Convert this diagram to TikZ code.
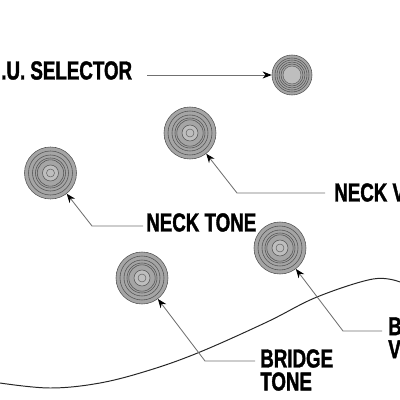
\documentclass[tikz,border=0pt]{standalone}
\usepackage{fontspec}
\newfontfamily\labelfont{Liberation Sans}[FakeStretch=0.72,FakeBold=1.4]
\usetikzlibrary{arrows.meta}

\definecolor{knobgray}{HTML}{A5A5A5}
\definecolor{knobline}{HTML}{555555}
\definecolor{knobcap}{HTML}{BEBEBE}
\definecolor{leadergray}{HTML}{707070}

\tikzstyle{knob} = [circle, draw=knobline, line width=0.4pt, fill=knobgray,
minimum size=1.3cm, inner sep=0pt,
path picture={
  \foreach \rad in {0.55,0.45,0.375,0.33}
    \draw[knobline, line width=0.4pt] (path picture bounding box.center) circle (\rad cm);
  \draw[knobline, fill=knobcap, line width=0.4pt] (path picture bounding box.center) circle (0.2cm);
  \draw[knobline, line width=0.3pt] (path picture bounding box.center) circle (0.1cm);
}]
\tikzstyle{selknob} = [circle, draw=knobline, line width=0.4pt, fill=knobgray,
minimum size=1cm, inner sep=0pt,
path picture={
  \foreach \rad in {0.425,0.375,0.325,0.275}
    \draw[knobline, line width=0.4pt] (path picture bounding box.center) circle (\rad cm);
  \draw[knobline, fill=knobcap, line width=0.3pt] (path picture bounding box.center) circle (0.225cm);
}]
\tikzstyle{callout} = [inner sep=0pt, anchor=north west, align=left,
font=\labelfont\bfseries\fontsize{18.5}{16.4}\selectfont]
\tikzstyle{arrow} = [leadergray, line width=0.6pt, -{Stealth[length=6.5pt,width=5pt,color=black]}]
\tikzstyle{body} = [black!85, line width=0.7pt]

\begin{document}
\begin{tikzpicture}[x=0.025cm, y=-0.025cm]
\useasboundingbox (0,0) rectangle (400,400);

% Knobs
\node (Selector_Knob) [selknob] at (292,75) {};
\node (Neck_Volume_Knob) [knob] at (190,133) {};
\node (Neck_Tone_Knob) [knob] at (50.5,173) {};
\node (Bridge_Volume_Knob) [knob] at (280,248) {};
\node (Bridge_Tone_Knob) [knob] at (142,278) {};

% Labels
\node (Selector) [callout] at (1,61) {.U. SELECTOR};
\node (Neck_Volume) [callout] at (334,183) {NECK V};
\node (Neck_Tone) [callout] at (146,213) {NECK TONE};
\node (Bridge_Volume) [callout] at (388,317) {B\\V};
\node (Bridge_Tone) [callout] at (260,349) {BRIDGE\\TONE};

% Leader points
\coordinate (Selector_Start) at (147,75);
\coordinate (Neck_Volume_Start) at (325,193);
\coordinate (Neck_Volume_Bend) at (237,193);
\coordinate (Neck_Tone_Start) at (143,226);
\coordinate (Neck_Tone_Bend) at (92,226);
\coordinate (Bridge_Volume_Start) at (382,331);
\coordinate (Bridge_Volume_Bend) at (343,331);
\coordinate (Bridge_Tone_Start) at (255,361);
\coordinate (Bridge_Tone_Bend) at (205,361);

% Body outline
\draw [body] plot[smooth, tension=0.6] coordinates {(0,383) (50,388) (100,383) (150,370) (200,352) (267,322) (317,297) (373,279) (400,282)};

% Leaders
\draw [arrow] (Selector_Start) -- (Selector_Knob);
\draw [arrow] (Neck_Volume_Start) -- (Neck_Volume_Bend) -- (Neck_Volume_Knob);
\draw [arrow] (Neck_Tone_Start) -- (Neck_Tone_Bend) -- (Neck_Tone_Knob);
\draw [arrow] (Bridge_Volume_Start) -- (Bridge_Volume_Bend) -- (Bridge_Volume_Knob);
\draw [arrow] (Bridge_Tone_Start) -- (Bridge_Tone_Bend) -- (Bridge_Tone_Knob);

\end{tikzpicture}
\end{document}
